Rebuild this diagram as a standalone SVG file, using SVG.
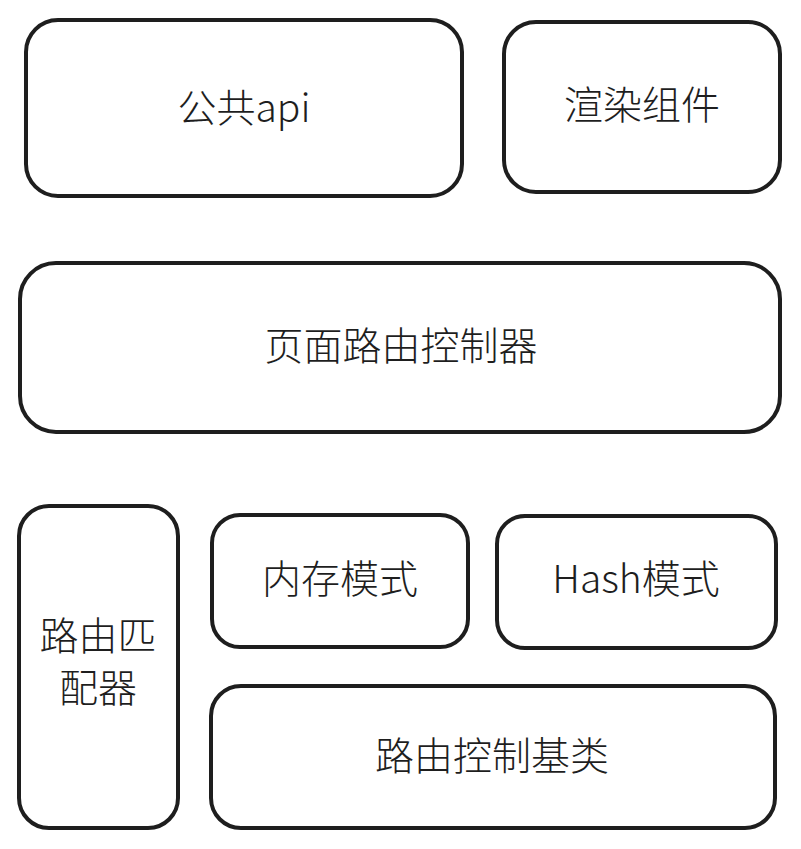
<svg xmlns="http://www.w3.org/2000/svg" width="801" height="849" viewBox="0 0 801 849">
<style>
.box{fill:#ffffff;stroke:#1e1e1e;stroke-width:4;stroke-linejoin:round}
.t{font-family:"Noto Sans CJK SC","Liberation Sans",sans-serif;font-size:39px;font-weight:300;fill:#1e1e1e;text-anchor:middle}
</style>
<rect width="801" height="849" fill="#ffffff"/>
<g id="node-api">
<rect class="box" x="26" y="20" width="436" height="176" rx="32"/>
<text class="t" x="244" y="122">公共api</text>
</g>
<g id="node-render">
<rect class="box" x="504" y="22" width="276" height="170" rx="32"/>
<text class="t" x="642" y="119">渲染组件</text>
</g>
<g id="node-page-router">
<rect class="box" x="20" y="263" width="760" height="169" rx="36"/>
<text class="t" x="401" y="360">页面路由控制器</text>
</g>
<g id="node-matcher">
<rect class="box" x="19" y="506" width="159" height="322" rx="30"/>
<text class="t" x="98" y="650">路由匹</text>
<text class="t" x="98" y="702">配器</text>
</g>
<g id="node-memory">
<rect class="box" x="212" y="515" width="256" height="132" rx="28"/>
<text class="t" x="340" y="593">内存模式</text>
</g>
<g id="node-hash">
<rect class="box" x="497" y="516" width="279" height="132" rx="28"/>
<text class="t" x="636" y="593">Hash模式</text>
</g>
<g id="node-base">
<rect class="box" x="211" y="686" width="564" height="142" rx="30"/>
<text class="t" x="492" y="770">路由控制基类</text>
</g>
<g id="connectors"></g>
</svg>
